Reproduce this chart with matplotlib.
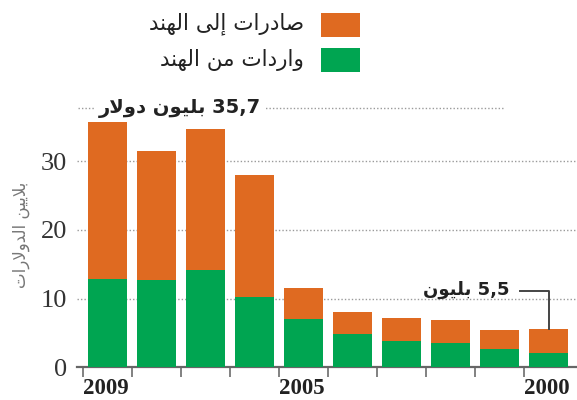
import matplotlib
matplotlib.use("Agg")
import matplotlib.pyplot as plt
from matplotlib.patches import Rectangle

# data (billions of dollars), 2009 on the left
years = ["2009", "2008", "2007", "2006", "2005", "2004", "2003", "2002", "2001", "2000"]
imports_from_india = [12.8, 12.7, 14.2, 10.2, 7.0, 4.8, 3.8, 3.5, 2.7, 2.1]
exports_to_india = [22.9, 18.9, 20.6, 17.9, 4.6, 3.3, 3.4, 3.3, 2.7, 3.4]
yticks = [0, 10, 20, 30]
year_labels = {0: "2009", 4: "2005", 9: "2000"}

ORANGE = "#DF6A21"
GREEN = "#00A551"

# tiny arabic shaper: presentation forms (isol, fina, init, medi)
FORMS = {
    "ا": ("\uFE8D", "\uFE8E", None, None),
    "إ": ("\uFE87", "\uFE88", None, None),
    "ب": ("\uFE8F", "\uFE90", "\uFE91", "\uFE92"),
    "ت": ("\uFE95", "\uFE96", "\uFE97", "\uFE98"),
    "د": ("\uFEA9", "\uFEAA", None, None),
    "ر": ("\uFEAD", "\uFEAE", None, None),
    "ص": ("\uFEB9", "\uFEBA", "\uFEBB", "\uFEBC"),
    "ل": ("\uFEDD", "\uFEDE", "\uFEDF", "\uFEE0"),
    "م": ("\uFEE1", "\uFEE2", "\uFEE3", "\uFEE4"),
    "ن": ("\uFEE5", "\uFEE6", "\uFEE7", "\uFEE8"),
    "ه": ("\uFEE9", "\uFEEA", "\uFEEB", "\uFEEC"),
    "و": ("\uFEED", "\uFEEE", None, None),
    "ى": ("\uFEEF", "\uFEF0", None, None),
    "ي": ("\uFEF1", "\uFEF2", "\uFEF3", "\uFEF4"),
}
LAM_ALEF = {"ا": ("\uFEFB", "\uFEFC"), "إ": ("\uFEF9", "\uFEFA")}


def joins_left(c):
    return c in FORMS and FORMS[c][2] is not None


def shape(word):
    out = []
    i = 0
    n = len(word)
    while i < n:
        c = word[i]
        prev = i > 0 and joins_left(word[i - 1])
        if c == "ل" and i + 1 < n and word[i + 1] in LAM_ALEF:
            out.append(LAM_ALEF[word[i + 1]][1 if prev else 0])
            i += 2
            continue
        if c not in FORMS:
            out.append(c)
            i += 1
            continue
        nxt = i + 1 < n and word[i + 1] in FORMS and joins_left(c)
        if prev and nxt:
            out.append(FORMS[c][3])
        elif prev:
            out.append(FORMS[c][1])
        elif nxt:
            out.append(FORMS[c][2])
        else:
            out.append(FORMS[c][0])
        i += 1
    return "".join(out)


def ar(text):
    words = []
    for w in text.split(" "):
        if any(ch in FORMS for ch in w):
            words.append(shape(w)[::-1])
        else:
            words.append(w)
    return " ".join(reversed(words))


fig = plt.figure(figsize=(5.77, 4.0), dpi=100)
ax = fig.add_axes([77 / 577, 1 - 367 / 400, 500 / 577, 274 / 400])

x = list(range(len(years)))
ax.bar(x, imports_from_india, width=0.8, color=GREEN, zorder=3)
ax.bar(x, exports_to_india, width=0.8, bottom=imports_from_india, color=ORANGE, zorder=3)

ax.set_xlim(-0.62, 9.58)
ax.set_ylim(0, 40)

for v in yticks[1:]:
    ax.axhline(v, color="#9a9a9a", lw=1, ls=(0, (1, 1.5)), zorder=1)

ax.set_yticks(yticks)
ax.set_yticklabels([str(v) for v in yticks], family="Liberation Serif", fontsize=19, color="#333333")
ax.tick_params(axis="y", length=0, pad=7)

ax.set_xticks([i - 0.5 for i in x])
ax.set_xticklabels([])
ax.tick_params(axis="x", length=7, width=1.3, color="#777777", direction="out")

for s in ["top", "right", "left"]:
    ax.spines[s].set_visible(False)
ax.spines["bottom"].set_color("#666666")
ax.spines["bottom"].set_linewidth(1.6)

for i, lab in year_labels.items():
    ax.annotate(lab, xy=(i - 0.5, 0), xycoords=("data", "axes fraction"),
                xytext=(0, -8), textcoords="offset points", ha="left", va="top",
                family="Liberation Serif", fontweight="bold", fontsize=16.5, color="#222222")

# 35.7 billion marker
ax.plot([-0.6, 8.1], [37.8, 37.8], color="#9a9a9a", lw=1, ls=(0, (1, 1.5)), zorder=1, clip_on=False)
ax.text(1.48, 37.8, ar("35,7 بليون دولار"), ha="center", va="center", fontsize=14,
        fontweight="bold", family="DejaVu Sans", color="#222222",
        bbox=dict(facecolor="white", edgecolor="none", pad=3), zorder=2)

# 5.5 billion callout
ax.plot([8.42, 9.01, 9.01], [11.1, 11.1, 5.5], color="#444444", lw=1.4, zorder=4)
ax.text(8.2, 11.3, ar("5,5 بليون"), ha="right", va="center", fontsize=13,
        fontweight="bold", family="DejaVu Sans", color="#222222", zorder=4)

# y label
fig.text(21 / 577, 1 - 235 / 400, ar("بلايين الدولارات"), rotation=90, ha="center", va="center",
         fontsize=12, color="#777777", family="DejaVu Sans")

# legend
fig.patches.append(Rectangle((321 / 577, 1 - 37 / 400), 39 / 577, 24 / 400,
                             transform=fig.transFigure, facecolor=ORANGE, edgecolor="none"))
fig.patches.append(Rectangle((321 / 577, 1 - 72 / 400), 39 / 577, 24 / 400,
                             transform=fig.transFigure, facecolor=GREEN, edgecolor="none"))
fig.text(304 / 577, 1 - 24 / 400, ar("صادرات إلى الهند"), ha="right", va="center",
         fontsize=15.5, color="#222222", family="DejaVu Sans")
fig.text(304 / 577, 1 - 60 / 400, ar("واردات من الهند"), ha="right", va="center",
         fontsize=15.5, color="#222222", family="DejaVu Sans")

fig.savefig("out.png", dpi=100)
